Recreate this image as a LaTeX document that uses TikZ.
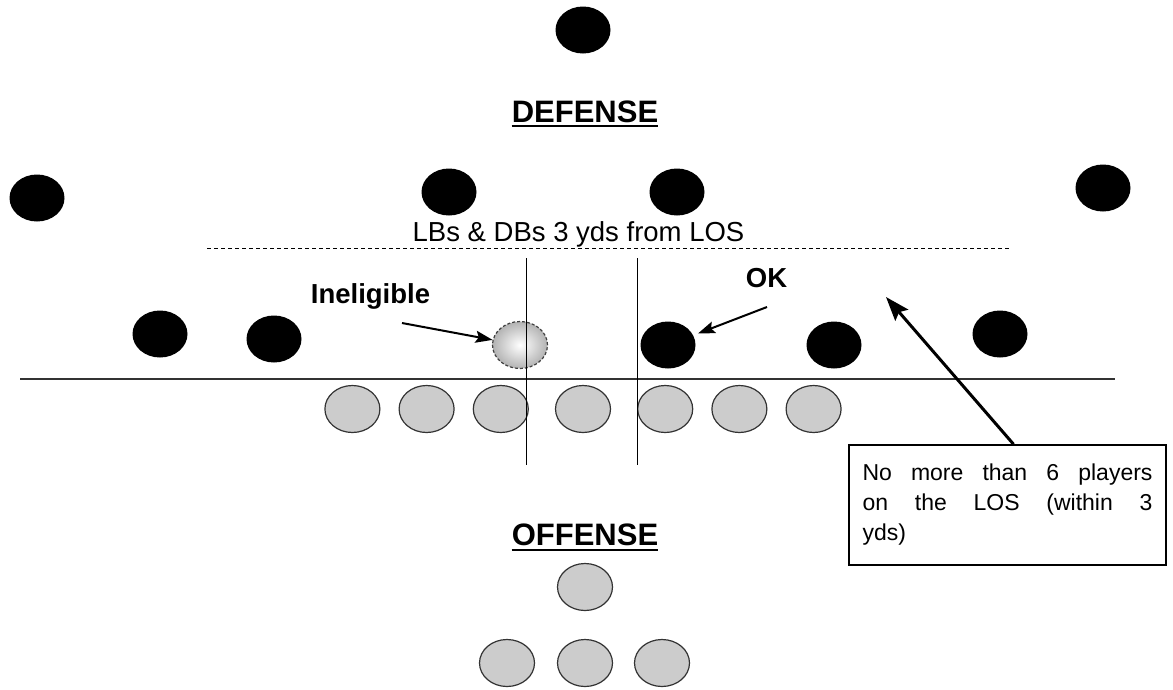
\documentclass[tikz,border=0pt]{standalone}
\usepackage{fontspec}
\setmainfont{Liberation Sans}
\usetikzlibrary{
  shapes.geometric, % Shape "ellipse"
  arrows.meta,
  positioning,      % Function "of" (e.g. [right=of x])
}
\def\mypw{55pt}
\def\myph{47pt}
\def\mygap{18pt}
\tikzset{
  semithick,
  >={Stealth[length=17pt,width=12pt,inset=3pt]},
  my player/.style={
    ellipse,
    minimum width=\mypw,
    minimum height=\myph,
    inner sep=0pt
  },
  my defense/.style={
    my player,
    fill=black
  },
  my offense/.style={
    my player,
    draw=black!80,
    line width=1.2pt,
    fill=black!20
  },
  my ineligible/.style={
    my player,
    draw=black!75,
    line width=1.2pt,
    dash pattern=on 3pt off 2pt,
    inner color=white,
    outer color=black!30
  },
  my title/.style={
    font=\bfseries\fontsize{31}{31}\selectfont,
    inner sep=0pt,
    anchor=base
  },
  my label/.style={
    font=\fontsize{27.5}{30}\selectfont,
    inner sep=0pt,
    anchor=base
  },
  my bold label/.style={
    my label,
    font=\bfseries\fontsize{27.5}{30}\selectfont
  },
  my note/.style={
    draw,
    line width=1.6pt,
    font=\fontsize{23}{30}\selectfont,
    text width=290pt,
    align=justify,
    minimum width=317pt,
    minimum height=120pt,
    inner xsep=13.5pt
  },
  my underline/.style={
    line width=2pt
  },
  my pointer/.style={
    ->,
    line width=2pt
  },
  my big pointer/.style={
    -{Stealth[length=24pt,width=17pt,inset=4pt]},
    line width=3pt
  }
}

\begin{document}
\begin{tikzpicture}[x=1pt,y=-1pt]
\useasboundingbox (0,0) rectangle (1173,689);
% defense
\node[my defense] (s)  at (583,30)  {};
\node[my defense] (c1) at (37,198)  {};
\node[my defense] (l1) at (449,192) {};
\node[my defense] (l2) at (677,192) {};
\node[my defense] (c2) at (1103,188) {};
\node[my defense] (d1) at (160,334) {};
\node[my defense] (d2) at (274,339) {};
\node[my defense] (d3) at (668,345) {};
\node[my defense] (d4) at (834,345) {};
\node[my defense] (d5) at (1000,334) {};
\node[my ineligible] (inel) at (520,345) {};
% offense
\node[my offense] (c)  at (583,409) {};
\node[my offense] (lg) [left=26pt of c]     {};
\node[my offense] (lt) [left=\mygap of lg]  {};
\node[my offense] (le) [left=\mygap of lt]  {};
\node[my offense] (rg) [right=26pt of c]    {};
\node[my offense] (rt) [right=\mygap of rg] {};
\node[my offense] (re) [right=\mygap of rt] {};
\node[my offense] (qb) at (585,587) {};
\node[my offense] (b1) at (507,663) {};
\node[my offense] (b2) at (585,663) {};
\node[my offense] (b3) at (662,663) {};
% lines
\coordinate (los west) at (20,379);
\coordinate (los east) at (1115,379);
\draw[line width=1.5pt,black!80] (los west) -- (los east);
\coordinate (lb west) at (207,248);
\coordinate (lb east) at (1009,248);
\draw[thin,dash pattern=on 4pt off 3pt] (lb west) -- (lb east);
\coordinate (gap1 top) at (526,258);
\coordinate (gap1 bot) at (526,465);
\coordinate (gap2 top) at (637,258);
\coordinate (gap2 bot) at (637,465);
\draw (gap1 top) -- (gap1 bot);
\draw (gap2 top) -- (gap2 bot);
% texts
\node[my title] (defense) at (585,122) {DEFENSE};
\draw[my underline] ([yshift=-4pt]defense.base west) -- ([yshift=-4pt]defense.base east);
\node[my title] (offense) at (585,545) {OFFENSE};
\draw[my underline] ([yshift=-5pt]offense.base west) -- ([yshift=-5pt]offense.base east);
\node[my label] (lbs) at (578.5,241) {LBs \& DBs 3 yds from LOS};
\node[my bold label] (inel label) at (370.5,303) {Ineligible};
\node[my bold label] (ok label) at (766.5,287) {OK};
\node[my note] (note) at (1007.5,505)
  {No more than 6 players\linebreak on the LOS (within 3\linebreak yds)};
% arrows
\coordinate (inel tail) at (402,323);
\coordinate (ok tail) at (767,307);
\coordinate (los tip) at (886,297);
\draw[my pointer] (inel tail) -- (inel);
\draw[my pointer,shorten >=5pt] (ok tail) -- (d3);
\draw[my big pointer] ([xshift=6pt]note.north) -- (los tip);
\end{tikzpicture}
\end{document}
